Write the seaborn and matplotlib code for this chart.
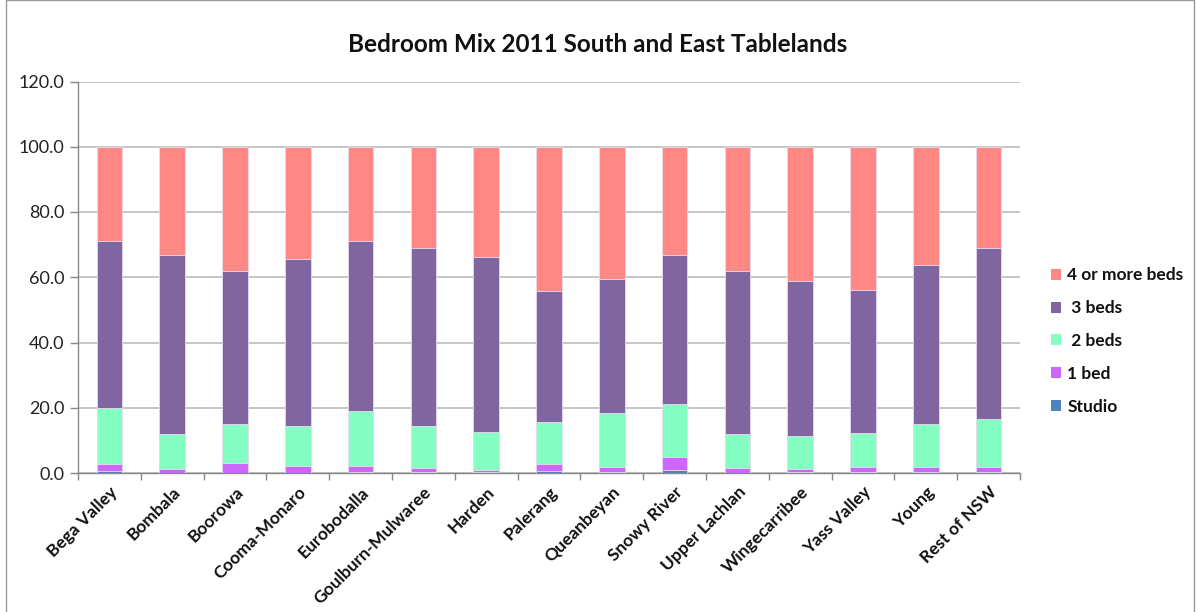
import numpy as np
import pandas as pd
import matplotlib
matplotlib.use("Agg")
import matplotlib.pyplot as plt
import seaborn as sns
from matplotlib.patches import Rectangle, Patch

categories = ["Bega Valley", "Bombala", "Boorowa", "Cooma-Monaro", "Eurobodalla",
              "Goulburn-Mulwaree", "Harden", "Palerang", "Queanbeyan", "Snowy River",
              "Upper Lachlan", "Wingecarribee", "Yass Valley", "Young", "Rest of NSW"]

studio = [0.7, 0.1, 0.1, 0.1, 0.4, 0.2, 0.4, 0.7, 0.2, 1.0, 0.1, 0.2, 0.2, 0.2, 0.2]
one_bed = [2.0, 1.2, 3.1, 1.9, 1.6, 1.3, 0.6, 2.0, 1.6, 3.9, 1.4, 1.1, 1.6, 1.5, 1.5]
two_beds = [17.3, 10.7, 11.8, 12.5, 17.1, 13.0, 11.7, 12.8, 16.5, 16.2, 10.5, 9.9, 10.6, 13.3, 14.9]
three_beds = [51.2, 54.7, 46.8, 51.0, 52.1, 54.6, 53.4, 40.2, 41.3, 45.6, 49.8, 47.8, 43.8, 48.7, 52.5]
four_plus = [28.8, 33.3, 38.2, 34.5, 28.8, 30.9, 33.9, 44.3, 40.4, 33.3, 38.2, 41.0, 43.8, 36.3, 30.9]

series_names = ["Studio", "1 bed", " 2 beds", " 3 beds", "4 or more beds"]
series_colors = ["#4F81BD", "#CC66FF", "#85FFC1", "#8065A1", "#FF8884"]

df = pd.DataFrame({"Area": categories, "Studio": studio, "1 bed": one_bed,
                   " 2 beds": two_beds, " 3 beds": three_beds, "4 or more beds": four_plus})
cum = df[series_names].cumsum(axis=1)
cum["Area"] = categories

sns.set_theme(style="white")
plt.rcParams["font.family"] = ["Lato", "DejaVu Sans"]

fig = plt.figure(figsize=(11.96, 6.12), dpi=100)
ax = fig.add_axes([78 / 1196, 1 - 473 / 612, (1020 - 78) / 1196, (473 - 81.5) / 612])

# draw cumulative tops from the tallest layer down so each segment shows
for name, color in reversed(list(zip(series_names, series_colors))):
    sns.barplot(data=cum, x="Area", y=name, color=color, width=0.41,
                edgecolor="#E6DDF0", linewidth=0.6, saturation=1, ax=ax, zorder=3)

ax.set_ylim(0, 120)
ax.set_xlim(-0.5, len(categories) - 0.5)
ax.set_yticks(np.arange(0, 121, 20))
ax.set_yticklabels([f"{v:.1f}" for v in np.arange(0, 121, 20)], fontsize=13, color="#222222")
ax.yaxis.grid(True, color="#BBBBBB", linewidth=1.2, zorder=0)
ax.set_axisbelow(True)
ax.set_xlabel("")
ax.set_ylabel("")

for s in ["top", "right"]:
    ax.spines[s].set_visible(False)
for s in ["left", "bottom"]:
    ax.spines[s].set_color("#888888")
    ax.spines[s].set_linewidth(1.0)

ax.tick_params(axis="y", which="both", left=True, length=6, width=1, color="#888888", pad=4)
# category labels at centers, tick marks at category boundaries
ax.set_xticks(range(len(categories)))
ax.set_xticklabels(categories, rotation=45, ha="right", rotation_mode="anchor",
                   fontsize=12.5, fontweight="bold", color="#111111")
ax.tick_params(axis="x", which="major", bottom=False, length=0, pad=8)
ax.set_xticks(np.arange(-0.5, len(categories), 1), minor=True)
ax.tick_params(axis="x", which="minor", bottom=True, length=5, width=1, color="#888888")

fig.text(0.5, 1 - 45 / 612, "Bedroom Mix 2011 South and East Tablelands",
         ha="center", va="center", fontsize=17.5, fontweight="bold", color="#111111")

handles = [Patch(facecolor=c, edgecolor="none", label=n)
           for n, c in reversed(list(zip(series_names, series_colors)))]
leg = fig.legend(handles=handles, loc="center left", bbox_to_anchor=(1044 / 1196, 1 - 341 / 612),
                 frameon=False, fontsize=12.5, handlelength=0.6, handleheight=0.6,
                 handletextpad=0.35, labelspacing=0.97, borderaxespad=0)
for t in leg.get_texts():
    t.set_fontweight("bold")
    t.set_color("#111111")

fig.patches.append(Rectangle((6 / 1196, -0.01), (1194 - 6) / 1196, 1.0095,
                             transform=fig.transFigure, fill=False,
                             edgecolor="#999999", linewidth=1.0))

fig.savefig("out.png", dpi=100)
